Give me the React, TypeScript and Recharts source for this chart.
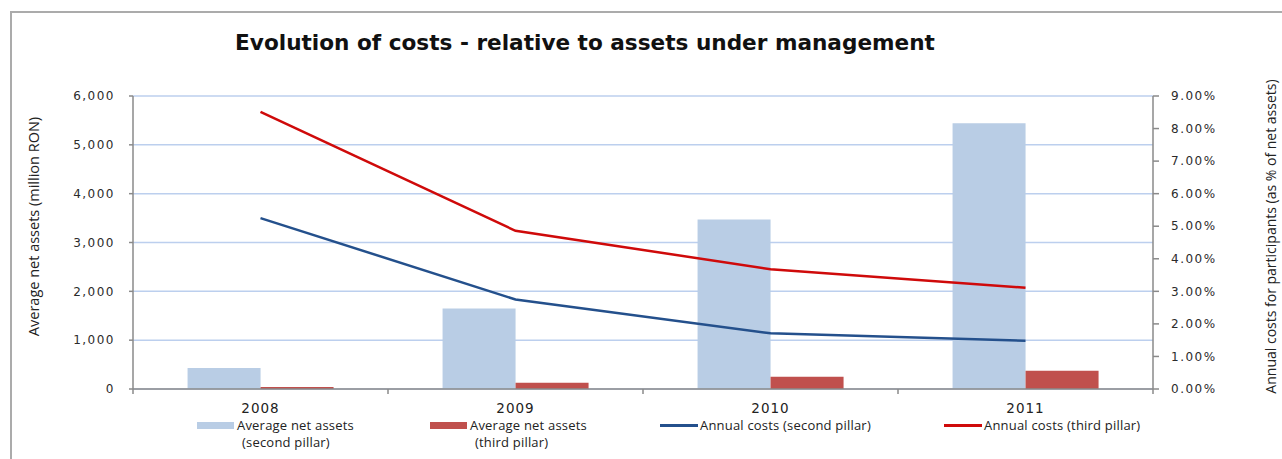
import { ComposedChart, Bar, Line, XAxis, YAxis, CartesianGrid } from "recharts";

const years = ["2008", "2009", "2010", "2011"];
const assetsSecond = [430, 1650, 3470, 5440];
const assetsThird = [40, 130, 250, 375];
const costsSecond = [5.25, 2.75, 1.71, 1.48];
const costsThird = [8.51, 4.86, 3.68, 3.11];
const leftTicks = [0, 1000, 2000, 3000, 4000, 5000, 6000];
const rightTicks = [0, 1, 2, 3, 4, 5, 6, 7, 8, 9];

const data = years.map((year, i) => ({
  year,
  assetsSecond: assetsSecond[i],
  assetsThird: assetsThird[i],
  costsSecond: costsSecond[i],
  costsThird: costsThird[i],
}));

const W = 1282;
const H = 459;
const LEFT_W = 133;
const RIGHT_W = 129;
const BAND = (W - LEFT_W - RIGHT_W) / years.length;

const LIGHT_BLUE = "#b9cde5";
const BRICK = "#c0504d";
const NAVY = "#24508c";
const RED = "#cf0a0a";
const AXIS = "#8a8a8a";

const legendItems = [
  { key: "a", kind: "bar", color: LIGHT_BLUE, lines: ["Average net assets", "(second pillar)"], left: 197 },
  { key: "b", kind: "bar", color: BRICK, lines: ["Average net assets", "(third pillar)"], left: 430 },
  { key: "c", kind: "line", color: NAVY, lines: ["Annual costs (second pillar)"], left: 660 },
  { key: "d", kind: "line", color: RED, lines: ["Annual costs (third pillar)"], left: 944 },
];

const tickFont = { fontFamily: "DejaVu Sans", fontSize: 12, fill: "#2b2b2b", letterSpacing: 1.5 };

function YearTick(props: any) {
  const { x, y, payload, index } = props;
  return (
    <g>
      <text x={x} y={y + 24} textAnchor="middle" fontFamily="DejaVu Sans" fontSize={13.5} fill="#222" letterSpacing={1}>
        {payload.value}
      </text>
      {index === 0 && <line x1={x - BAND / 2} x2={x - BAND / 2} y1={y} y2={y + 5} stroke={AXIS} strokeWidth={1.5} />}
      <line x1={x + BAND / 2} x2={x + BAND / 2} y1={y} y2={y + 5} stroke={AXIS} strokeWidth={1.5} />
    </g>
  );
}

function LeftTitle(props: any) {
  const { viewBox } = props;
  const cx = viewBox.x + 33;
  const cy = viewBox.y + viewBox.height / 2 - 16;
  return (
    <text x={cx} y={cy} transform={`rotate(-90 ${cx} ${cy})`} textAnchor="middle" dominantBaseline="central"
      fontFamily="Open Sans" fontSize={14.5} fill="#222">
      Average net assets (million RON)
    </text>
  );
}

function RightTitle(props: any) {
  const { viewBox } = props;
  const cx = viewBox.x + 117;
  const cy = viewBox.y + viewBox.height / 2 - 6;
  return (
    <text x={cx} y={cy} transform={`rotate(-90 ${cx} ${cy})`} textAnchor="middle" dominantBaseline="central"
      fontFamily="Open Sans" fontSize={14} fill="#222">
      Annual costs for participants (as % of net assets)
    </text>
  );
}

function LegendBox() {
  return (
    <>
      {legendItems.map((it) => (
        <div key={it.key} style={{ position: "absolute", left: it.left, top: 417, fontFamily: "Open Sans", fontSize: 13, letterSpacing: 0.2, color: "#222", lineHeight: "17px" }}>
          <div style={{ display: "flex", alignItems: "center" }}>
            {it.kind === "bar" ? (
              <span style={{ display: "inline-block", width: 37, height: 7, background: it.color, marginRight: 3 }} />
            ) : (
              <span style={{ display: "inline-block", width: 38, height: 2.5, background: it.color, marginRight: 2 }} />
            )}
            <span>{it.lines[0]}</span>
          </div>
          {it.lines[1] && <div style={{ paddingLeft: 45 }}>{it.lines[1]}</div>}
        </div>
      ))}
    </>
  );
}

export default function App() {
  return (
    <div style={{ position: "absolute", left: 0, top: 0, width: W, height: H, overflow: "hidden", background: "#fff" }}>
      <div style={{ position: "absolute", left: 10, top: 11, width: W + 20, height: H + 20, borderLeft: "2px solid #ababab", borderTop: "2px solid #ababab" }} />
      <div style={{ position: "absolute", left: 0, top: 29, width: 1170, textAlign: "center", fontFamily: "DejaVu Sans", fontWeight: "bold", fontSize: 21.6, lineHeight: "28px", color: "#111" }}>
        Evolution of costs - relative to assets under management
      </div>
      <div style={{ position: "absolute", left: 0, top: 0 }}>
        <ComposedChart width={W} height={H} data={data} margin={{ top: 96, right: 0, bottom: 0, left: 0 }} barCategoryGap="21.4%" barGap={0}>
          <CartesianGrid yAxisId="left" vertical={false} stroke="#bccfee" strokeWidth={1.5} />
          <XAxis dataKey="year" height={70} axisLine={{ stroke: AXIS, strokeWidth: 1.5 }} tickLine={false} tickSize={0} tickMargin={0} tick={<YearTick />} interval={0} />
          <YAxis yAxisId="left" width={LEFT_W} domain={[0, 6000]} ticks={leftTicks} interval={0}
            tickFormatter={(v: number) => v.toLocaleString("en-US")}
            axisLine={{ stroke: AXIS, strokeWidth: 1.5 }} tickLine={{ stroke: AXIS, strokeWidth: 1.5 }} tickSize={4} tickMargin={14}
            tick={tickFont} label={<LeftTitle />} />
          <YAxis yAxisId="right" orientation="right" width={RIGHT_W} domain={[0, 9]} ticks={rightTicks} interval={0}
            tickFormatter={(v: number) => `${v.toFixed(2)}%`}
            axisLine={{ stroke: AXIS, strokeWidth: 1.5 }} tickLine={{ stroke: AXIS, strokeWidth: 1.5 }} tickSize={6} tickMargin={12}
            tick={tickFont} label={<RightTitle />} />
          <Bar yAxisId="left" dataKey="assetsSecond" fill={LIGHT_BLUE} isAnimationActive={false} />
          <Bar yAxisId="left" dataKey="assetsThird" fill={BRICK} isAnimationActive={false} />
          <Line yAxisId="right" type="linear" dataKey="costsSecond" stroke={NAVY} strokeWidth={2.5} dot={false} isAnimationActive={false} />
          <Line yAxisId="right" type="linear" dataKey="costsThird" stroke={RED} strokeWidth={2.5} dot={false} isAnimationActive={false} />
        </ComposedChart>
      </div>
      <LegendBox />
    </div>
  );
}
